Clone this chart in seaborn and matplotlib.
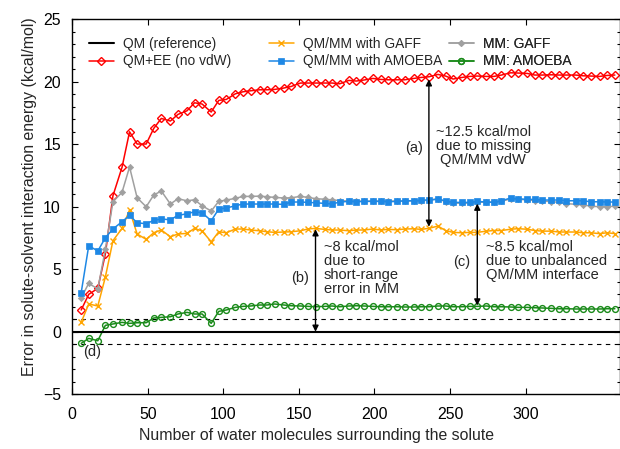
import numpy as np
import pandas as pd
import matplotlib
matplotlib.use("Agg")
import matplotlib.pyplot as plt
from matplotlib.ticker import MultipleLocator
import seaborn as sns

sns.set_theme(style="ticks")
plt.rcParams['font.family'] = ['Liberation Sans', 'DejaVu Sans']

# number of water molecules around the solute
n_water = [6, 11, 17, 22, 27, 33, 38, 43, 49, 54, 59, 65, 70, 76, 81, 86, 92, 97,
           102, 108, 113, 118, 124, 129, 134, 140, 145, 151, 156, 161, 167, 172,
           177, 183, 188, 193, 199, 204, 209, 215, 220, 226, 231, 236, 242, 247,
           252, 258, 263, 268, 274, 279, 284, 290, 295, 301, 306, 311, 317, 322,
           327, 333, 338, 343, 349, 354, 359]

qm_ee = [1.74, 2.99, 3.47, 6.22, 10.88, 13.15, 16.0, 15.02, 15.02, 16.27, 17.07,
         16.86, 17.39, 17.68, 18.32, 18.22, 17.58, 18.51, 18.59, 19.04, 19.2,
         19.28, 19.36, 19.36, 19.39, 19.5, 19.63, 19.9, 19.9, 19.9, 19.9, 19.9,
         19.84, 20.11, 20.06, 20.14, 20.27, 20.19, 20.16, 20.16, 20.16, 20.27,
         20.35, 20.4, 20.59, 20.46, 20.22, 20.35, 20.43, 20.46, 20.43, 20.43,
         20.54, 20.72, 20.7, 20.67, 20.54, 20.54, 20.56, 20.54, 20.54, 20.54,
         20.48, 20.46, 20.43, 20.51, 20.54]

qmmm_gaff = [0.75, 2.22, 2.06, 4.38, 7.28, 8.27, 9.74, 7.82, 7.39, 7.92, 8.14,
             7.6, 7.82, 7.87, 8.27, 8.06, 7.2, 8.0, 7.92, 8.22, 8.22, 8.14, 8.08,
             8.0, 7.95, 7.98, 8.0, 8.08, 8.22, 8.27, 8.19, 8.14, 8.14, 8.08, 8.14,
             8.14, 8.22, 8.14, 8.19, 8.16, 8.22, 8.24, 8.19, 8.28, 8.45, 8.1,
             7.95, 7.92, 7.95, 7.95, 8.05, 8.1, 8.1, 8.2, 8.25, 8.2, 8.1, 8.05,
             8.05, 7.98, 7.98, 7.98, 7.92, 7.92, 7.85, 7.92, 7.85]

qmmm_amoeba = [3.12, 6.88, 6.46, 7.52, 8.22, 8.8, 9.31, 8.72, 8.64, 8.91, 9.02,
               8.96, 9.31, 9.44, 9.6, 9.52, 8.88, 9.82, 9.9, 10.08, 10.22, 10.22,
               10.22, 10.22, 10.22, 10.19, 10.38, 10.38, 10.35, 10.32, 10.27,
               10.22, 10.38, 10.43, 10.4, 10.43, 10.43, 10.43, 10.4, 10.43, 10.48,
               10.48, 10.54, 10.54, 10.6, 10.48, 10.35, 10.35, 10.35, 10.43,
               10.38, 10.35, 10.48, 10.7, 10.64, 10.59, 10.59, 10.54, 10.54,
               10.54, 10.48, 10.48, 10.48, 10.4, 10.4, 10.38, 10.38]

mm_gaff = [2.72, 3.87, 3.42, 6.6, 10.4, 11.15, 13.18, 10.72, 10.0, 10.94, 11.26,
           10.22, 10.64, 10.48, 10.56, 10.08, 9.66, 10.43, 10.54, 10.67, 10.83,
           10.83, 10.85, 10.8, 10.75, 10.7, 10.72, 10.83, 10.75, 10.65, 10.6,
           10.55, 10.5, 10.45, 10.45, 10.45, 10.46, 10.46, 10.45, 10.46, 10.45,
           10.48, 10.5, 10.52, 10.65, 10.4, 10.3, 10.28, 10.3, 10.35, 10.38,
           10.38, 10.45, 10.62, 10.6, 10.55, 10.5, 10.45, 10.42, 10.35, 10.25,
           10.2, 10.15, 10.05, 10.0, 10.0, 10.05]

mm_amoeba = [-0.93, -0.53, -0.72, 0.51, 0.62, 0.75, 0.67, 0.72, 0.72, 1.1, 1.15,
             1.2, 1.42, 1.55, 1.42, 1.42, 0.67, 1.63, 1.74, 1.95, 2.03, 2.06,
             2.14, 2.14, 2.22, 2.14, 2.08, 2.06, 2.03, 2.0, 2.03, 2.06, 2.0, 2.06,
             2.08, 2.06, 2.03, 2.0, 2.0, 2.0, 1.98, 1.98, 2.0, 2.0, 2.06, 2.06,
             2.0, 2.0, 2.03, 2.03, 2.06, 2.0, 2.0, 1.98, 1.95, 1.95, 1.92, 1.9,
             1.87, 1.84, 1.84, 1.82, 1.82, 1.82, 1.82, 1.84, 1.84]

df = pd.DataFrame({
    'n': n_water,
    'QM+EE (no vdW)': qm_ee,
    'QM/MM with GAFF': qmmm_gaff,
    'QM/MM with AMOEBA': qmmm_amoeba,
    'MM: GAFF': mm_gaff,
    'MM: AMOEBA': mm_amoeba,
})

fig = plt.figure(figsize=(6.2, 4.49), dpi=100)
ax = fig.add_axes([0.1163, 0.122, 0.8837, 0.835])

lw = 1.1
ax.axhline(0, color='black', lw=1.5, label='QM (reference)', zorder=3)
ax.axhline(1, color='black', lw=0.8, ls=(0, (4, 4)), zorder=1)
ax.axhline(-1, color='black', lw=0.8, ls=(0, (4, 4)), zorder=1)

styles = {
    'QM+EE (no vdW)': dict(color='#ff0000', marker='D', ms=4.5, mfc='none', mew=1.0),
    'QM/MM with GAFF': dict(color='#ffa500', marker='x', ms=4.5, mew=1.0),
    'MM: GAFF': dict(color='#a0a0a0', marker='D', ms=3.2, mew=0.5),
    'QM/MM with AMOEBA': dict(color='#1e88e5', marker='s', ms=5, mew=0.5),
    'MM: AMOEBA': dict(color='#1a8a1a', marker='o', ms=4.2, mfc='none', mew=1.0),
}
for name, st in styles.items():
    sns.lineplot(data=df, x='n', y=name, ax=ax, lw=lw, label=name, ls='-',
                 mec=st['color'], estimator=None, sort=False, legend=False, **st)

# arrows
arrow = dict(arrowstyle='<|-|>', color='black', lw=1.0, mutation_scale=9,
             shrinkA=0, shrinkB=0)
ax.annotate('', xy=(236, 20.2), xytext=(236, 8.4), arrowprops=arrow)
ax.annotate('', xy=(161, 8.2), xytext=(161, 0.0), arrowprops=arrow)
ax.annotate('', xy=(268, 10.25), xytext=(268, 2.1), arrowprops=arrow)

fs = 10.5
ax.text(226, 14.7, '(a)', ha='center', va='center', fontsize=fs)
ax.text(272, 14.85, '~12.5 kcal/mol\ndue to missing\nQM/MM vdW', ha='center',
        va='center', fontsize=fs, linespacing=1.0)
ax.text(151, 4.3, '(b)', ha='center', va='center', fontsize=fs)
ax.text(166.5, 5.1, '~8 kcal/mol\ndue to\nshort-range\nerror in MM', ha='left',
        va='center', fontsize=fs, linespacing=1.0)
ax.text(257.5, 5.6, '(c)', ha='center', va='center', fontsize=fs)
ax.text(273.5, 5.65, '~8.5 kcal/mol\ndue to unbalanced\nQM/MM interface', ha='left',
        va='center', fontsize=fs, linespacing=1.0)
ax.text(13, -1.65, '(d)', ha='center', va='center', fontsize=fs)

fl = 11.4
ax.set_xlim(0, 362.4)
ax.set_ylim(-5, 25)
ax.xaxis.set_major_locator(MultipleLocator(50))
ax.yaxis.set_major_locator(MultipleLocator(5))
ax.yaxis.set_minor_locator(MultipleLocator(1))
ax.tick_params(which='both', direction='in', top=True, right=True,
               labelsize=fl, colors='black')
ax.tick_params(axis='y', pad=8)
ax.tick_params(axis='x', pad=9)
ax.tick_params(which='major', length=4, width=0.8)
ax.tick_params(which='minor', length=2.5, width=0.8)
ax.set_xticks([0, 50, 100, 150, 200, 250, 300])
for sp in ax.spines.values():
    sp.set_linewidth(1.0)
    sp.set_color('black')
ax.set_xlabel('Number of water molecules surrounding the solute', fontsize=fl)
ax.set_ylabel('Error in solute-solvent interaction energy (kcal/mol)', fontsize=fl)
ax.xaxis.set_label_coords((316 - 72.1) / 547.9, -0.09)
ax.yaxis.set_label_coords(-0.064, 0.527)

# three legend columns like the original
fleg = 9.9
handles, labels = ax.get_legend_handles_labels()
lookup = dict(zip(labels, handles))
cols = [(['QM (reference)', 'QM+EE (no vdW)'], 0.016),
        (['QM/MM with GAFF', 'QM/MM with AMOEBA'], 0.344),
        (['MM: GAFF', 'MM: AMOEBA'], 0.673)]
for names, xpos in cols:
    leg = ax.legend([lookup[n] for n in names], names, loc='upper left',
                    bbox_to_anchor=(xpos, 0.976), frameon=False, fontsize=fleg,
                    handlelength=1.8, handletextpad=0.65, labelspacing=0.28,
                    borderaxespad=0.2)
    ax.add_artist(leg)

fig.savefig('out.png', dpi=100)
